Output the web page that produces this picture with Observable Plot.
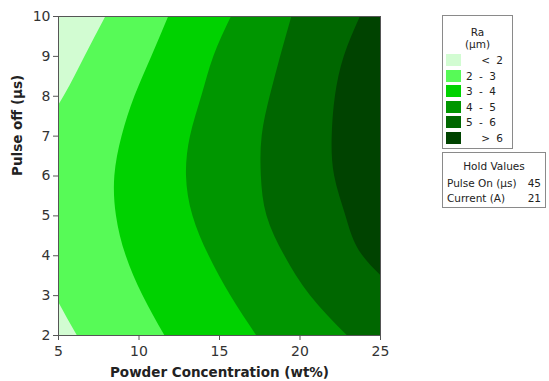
<!DOCTYPE html>
<html><head><meta charset="utf-8">
<script src="https://cdn.jsdelivr.net/npm/d3@7"></script>
<script src="https://cdn.jsdelivr.net/npm/@observablehq/plot@0.6"></script>
<style>
body{margin:0;background:#fff;font-family:"DejaVu Sans",sans-serif;}
#wrap{position:relative;width:549px;height:381px;overflow:hidden;}
.box{position:absolute;border:1px solid #8a8a8a;background:#fff;box-sizing:border-box;font-size:10.5px;color:#222;}
.t{position:absolute;white-space:nowrap;line-height:1;}
.sw{position:absolute;width:15px;height:12px;}
</style></head><body><div id="wrap"></div>
<script>
// Pulse off (µs) levels at which the contour boundaries were read
const pulseOff = [2, 3, 4, 5, 6, 7, 8, 9, 10];
// Powder concentration (wt%) where Ra crosses each contour level
const boundRa2 = [6.16, 4.8, 3.75, 3.2, 3.2, 3.95, 5.35, 6.65, 7.95];
const boundRa3 = [11.6, 10.25, 9.2, 8.6, 8.5, 8.95, 9.75, 10.8, 11.85];
const boundRa4 = [17.3, 15.7, 14.35, 13.35, 12.95, 13.2, 13.9, 14.65, 15.75];
const boundRa5 = [22.93, 20.65, 19.05, 17.95, 17.6, 17.65, 18.15, 18.8, 19.5];
const boundRa6 = [29.0, 26.4, 23.9, 22.85, 22.15, 22.0, 22.2, 22.75, 23.76];

const bandLabels = ["< 2", "2 - 3", "3 - 4", "4 - 5", "5 - 6", "> 6"];
const bandColors = ["#d2fcd2", "#57fa57", "#00d200", "#009600", "#006700", "#004300"];
const xTicks = [5, 10, 15, 20, 25];
const yTicks = [2, 3, 4, 5, 6, 7, 8, 9, 10];
const xLabel = ["Powder Concentration (wt%)"];
const yLabel = ["Pulse off (µs)"];
const legendTitle = ["Ra", "(µm)"];
const holdTitle = "Hold Values";
const holdNames = ["Pulse On (µs)", "Current (A)"];
const holdValues = [45, 21];

const bounds = [boundRa2, boundRa3, boundRa4, boundRa5, boundRa6];
const rows = [];
bounds.forEach((b, i) => pulseOff.forEach((y, j) => rows.push({band: bandLabels[i + 1], y, x: b[j]})));

const chart = Plot.plot({
  width: 549, height: 381,
  marginLeft: 58, marginRight: 169, marginTop: 16, marginBottom: 46,
  style: {fontFamily: "DejaVu Sans, sans-serif", fontSize: "14px", color: "#333", background: "#fff"},
  x: {domain: [5, 25]},
  y: {domain: [2, 10]},
  color: {type: "ordinal", domain: bandLabels, range: bandColors},
  marks: [
    Plot.frame({fill: bandColors[0], stroke: "none"}),
    Plot.areaX(rows, {x1: "x", x2: () => 60, y: "y", fill: "band", z: "band", curve: "natural", clip: true}),
    Plot.frame({stroke: "#555", strokeWidth: 1}),
    Plot.axisX({ticks: xTicks, tickSize: 5, tickPadding: 6, label: null, fontSize: 14, stroke: "#555"}),
    Plot.axisY({ticks: yTicks, tickSize: 5, tickPadding: 3, label: null, fontSize: 14, stroke: "#555"}),
    Plot.text(xLabel, {frameAnchor: "bottom", lineAnchor: "middle", dy: 37, fontWeight: "bold", fontSize: 13.5, fill: "#222"}),
    Plot.text(yLabel, {frameAnchor: "left", rotate: -90, dx: -41, fontWeight: "bold", fontSize: 13.5, fill: "#222"})
  ]
});
const wrap = document.getElementById("wrap");
wrap.appendChild(chart);

// Legend box
const lg = document.createElement("div");
lg.className = "box";
Object.assign(lg.style, {left: "442px", top: "15px", width: "71px", height: "134px"});
legendTitle.forEach((t, i) => {
  const e = document.createElement("div");
  e.className = "t"; e.textContent = t;
  Object.assign(e.style, {left: "0", width: "69px", textAlign: "center", top: (11 + i * 12) + "px"});
  lg.appendChild(e);
});
bandLabels.forEach((lab, i) => {
  const top = 38 + i * 15.6;
  const s = document.createElement("div");
  s.className = "sw"; s.style.background = bandColors[i];
  Object.assign(s.style, {left: "3px", top: top + "px"});
  lg.appendChild(s);
  const e = document.createElement("div");
  e.className = "t"; e.textContent = lab;
  e.style.top = (top + 1) + "px";
  if (lab.includes("-")) e.style.left = "23px"; else e.style.right = "9px";
  e.style.wordSpacing = "3px";
  lg.appendChild(e);
});
wrap.appendChild(lg);

// Hold values box
const hb = document.createElement("div");
hb.className = "box";
Object.assign(hb.style, {left: "442px", top: "152px", width: "104px", height: "56px"});
const ht = document.createElement("div");
ht.className = "t"; ht.textContent = holdTitle;
Object.assign(ht.style, {left: "0", width: "102px", textAlign: "center", top: "8px"});
hb.appendChild(ht);
holdNames.forEach((n, i) => {
  const a = document.createElement("div");
  a.className = "t"; a.textContent = n;
  Object.assign(a.style, {left: "4px", top: (25 + i * 15) + "px"});
  hb.appendChild(a);
  const b = document.createElement("div");
  b.className = "t"; b.textContent = holdValues[i];
  Object.assign(b.style, {right: "4px", top: (25 + i * 15) + "px"});
  hb.appendChild(b);
});
wrap.appendChild(hb);
</script></body></html>
